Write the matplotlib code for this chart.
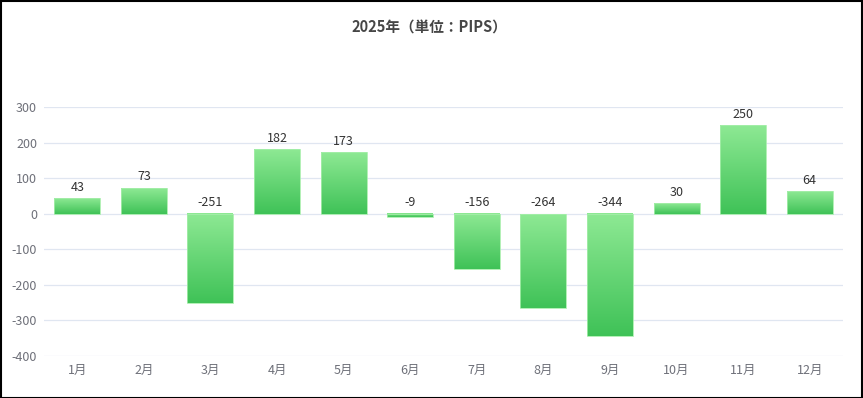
import matplotlib
matplotlib.use("Agg")
import matplotlib.pyplot as plt
import numpy as np
from matplotlib.colors import LinearSegmentedColormap
from matplotlib.patches import Rectangle

plt.rcParams['font.family'] = ['Noto Sans CJK JP', 'DejaVu Sans']

months = ["1月", "2月", "3月", "4月", "5月", "6月", "7月", "8月", "9月", "10月", "11月", "12月"]
values = [43, 73, -251, 182, 173, -9, -156, -264, -344, 30, 250, 64]
yticks = [300, 200, 100, 0, -100, -200, -300, -400]
title = "2025年（単位：PIPS）"

W, H = 863, 398
fig = plt.figure(figsize=(W / 100, H / 100), dpi=100)
ax = fig.add_axes([44 / W, 1 - 356 / H, (843 - 44) / W, (356 - 107) / H])

cmap = LinearSegmentedColormap.from_list("g", ["#3fc257", "#8ee994"])
grad = np.linspace(0, 1, 256).reshape(-1, 1)

x = np.arange(len(months))
bw = 0.69
for xi, v in zip(x, values):
    lo, hi = min(0, v), max(0, v)
    ax.imshow(grad, cmap=cmap, origin="lower", aspect="auto",
              extent=[xi - bw / 2, xi + bw / 2, lo, hi], zorder=3, interpolation="bilinear")
    ax.add_patch(Rectangle((xi - bw / 2, lo), bw, hi - lo, fill=False,
                           edgecolor="#a6eeaa", lw=0.6, zorder=4))
    ty = hi + 12
    ax.text(xi, ty, str(v), ha="center", va="bottom", fontsize=9, color="#333333", zorder=5)

ax.set_xlim(-0.5, len(months) - 0.5)
ax.set_ylim(-400, 300)
ax.set_yticks(yticks)
ax.set_yticklabels([str(t) for t in yticks])
ax.set_xticks(x)
ax.set_xticklabels(months)
ax.tick_params(axis="both", length=0, labelsize=9, colors="#6e7079")
ax.tick_params(axis="y", pad=5)
ax.tick_params(axis="x", pad=6)
for s in ax.spines.values():
    s.set_visible(False)
ax.grid(axis="y", color="#e0e6f1", lw=0.9, zorder=0)
ax.set_axisbelow(True)

fig.text(0.5 - 2 / W, 1 - 28 / H, title, ha="center", va="center", fontsize=10.5,
         fontweight="bold", color="#464646")

fig.add_artist(Rectangle((0.5 / W, 0.5 / H), 1 - 1.5 / W, 1 - 1.5 / H, transform=fig.transFigure,
                         fill=False, edgecolor="black", lw=1.5))

fig.savefig("out.png", dpi=100)
